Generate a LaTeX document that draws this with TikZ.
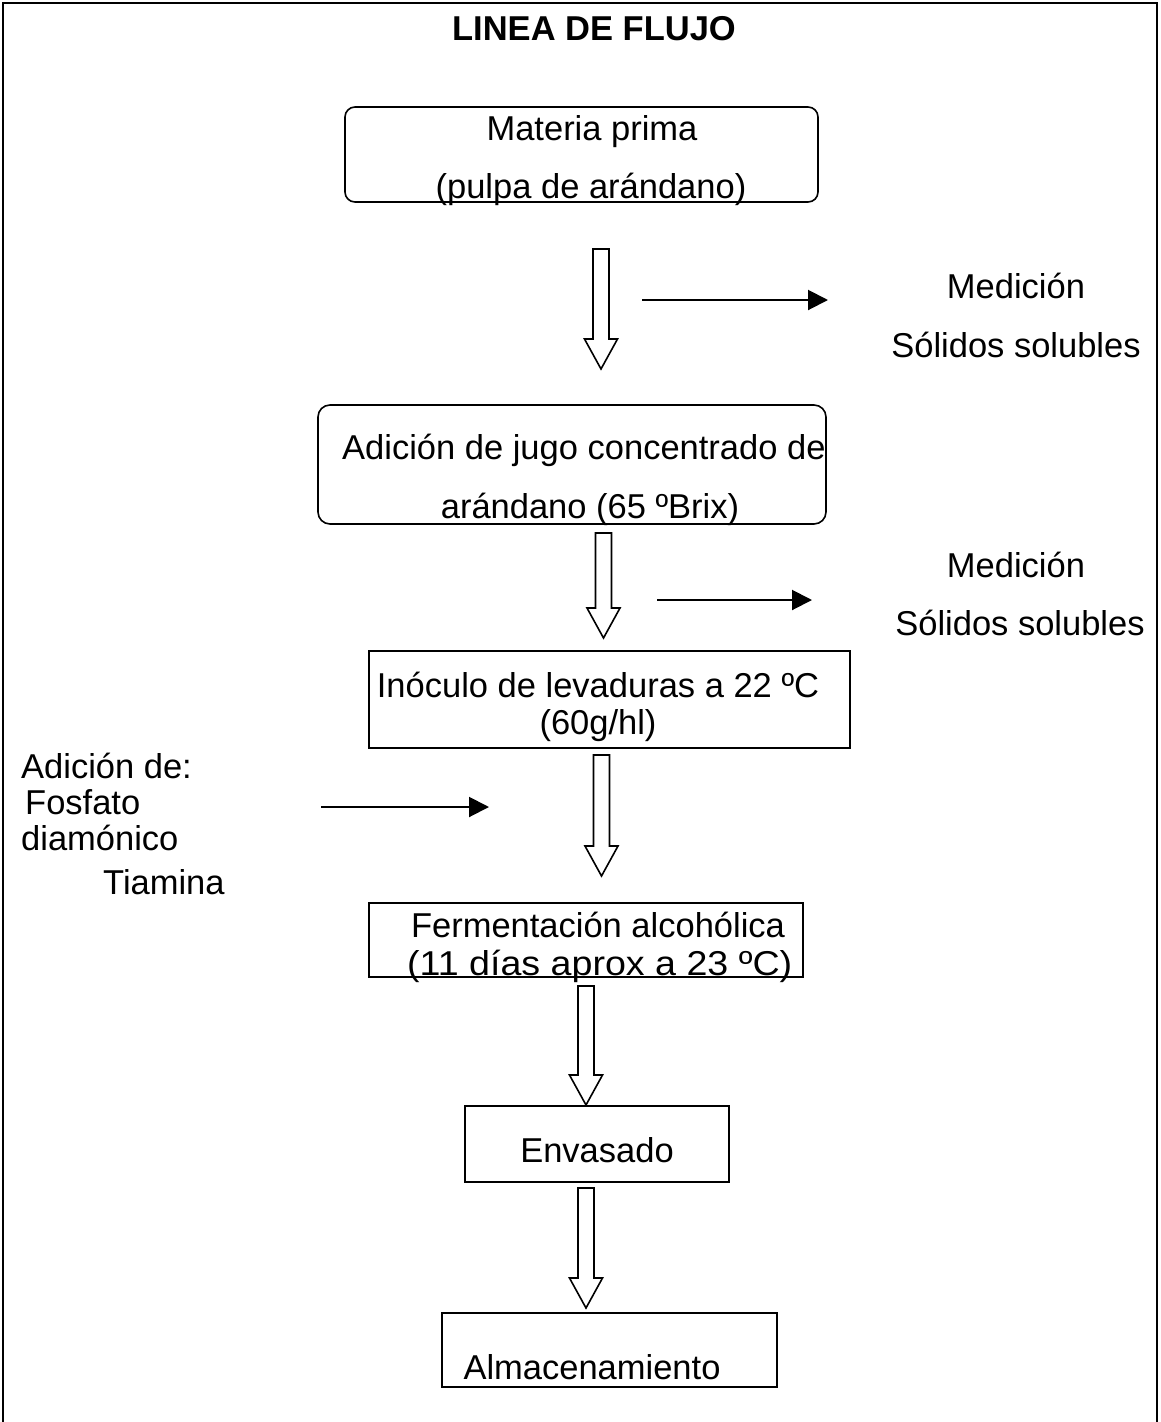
\documentclass[tikz,border=0pt]{standalone}
\usepackage{fontspec}
\setmainfont{Liberation Sans}
\usetikzlibrary{arrows.meta}
\tikzset{
  stepbox/.style={draw=black, line width=1.6pt, inner sep=0pt, fill=none},
  lbl/.style={inner sep=0pt, font=\fontsize{34.5}{40}\selectfont},
  ttl/.style={inner sep=0pt, font=\fontsize{34.5}{40}\selectfont\bfseries},
  frameline/.style={line width=2.5pt, draw=black},
  harrow/.style={line width=1.6pt, draw=black, line join=miter},
  flowarrow/.style={line width=2pt, -{Triangle[length=20pt,width=20pt]}}
}
\newcommand\hollowarrow[3]{%
  \draw[harrow] ({#1-8},{#2}) -- ({#1-8},{#3-30}) -- ({#1-16.5},{#3-30}) -- ({#1},{#3})
    -- ({#1+16.5},{#3-30}) -- ({#1+8},{#3-30}) -- ({#1+8},{#2}) -- cycle;}
\begin{document}
\begin{tikzpicture}[x=1pt,y=-1pt]
\useasboundingbox (0,0) rectangle (1160,1422);
% outer frame (bottom edge cut off)
\draw[frameline] (3,1440) -- (3,3) -- (1157,3) -- (1157,1440);

% title
\node[ttl, anchor=base] (title) at (594,40) {LINEA DE FLUJO};

% boxes
\node[stepbox, rounded corners=10pt, minimum width=473pt, minimum height=95pt] (b1) at (581.5,154.5) {};
\node[stepbox, rounded corners=12pt, minimum width=508pt, minimum height=119pt] (b2) at (572,464.5) {};
\node[stepbox, minimum width=481pt, minimum height=97pt] (b3) at (609.5,699.5) {};
\node[stepbox, minimum width=434pt, minimum height=74pt] (b4) at (586,940) {};
\node[stepbox, minimum width=264pt, minimum height=76pt] (b5) at (597,1144) {};
\node[stepbox, minimum width=335pt, minimum height=74pt] (b6) at (609.5,1350) {};

% box texts
\node[lbl, anchor=base] (t1a) at (592,140) {Materia prima};
\node[lbl, anchor=base] (t1b) at (591,198) {(pulpa de arándano)};
\node[lbl, anchor=base west] (t2a) at (342,459) {Adición de jugo concentrado de};
\node[lbl, anchor=base] (t2b) at (590,518) {arándano (65 ºBrix)};
\node[lbl, anchor=base] (t3a) at (598,697) {Inóculo de levaduras a 22 ºC};
\node[lbl, anchor=base] (t3b) at (598,734) {(60g/hl)};
\node[lbl, anchor=base] (t4a) at (598,937) {Fermentación alcohólica};
\node[lbl, anchor=base west] (t4b) at (407,975) {\scalebox{1.09}[1]{(11 días aprox a 23 ºC)}};
\node[lbl, anchor=base] (t5) at (597,1162) {Envasado};
\node[lbl, anchor=base] (t6) at (592,1379) {Almacenamiento};

% side texts
\node[lbl, anchor=base] (m1a) at (1016,298) {Medición};
\node[lbl, anchor=base] (m1b) at (1016,357) {Sólidos solubles};
\node[lbl, anchor=base] (m2a) at (1016,577) {Medición};
\node[lbl, anchor=base] (m2b) at (1020,635) {Sólidos solubles};
\node[lbl, anchor=base west] (ad1) at (21,778) {Adición de:};
\node[lbl, anchor=base west] (ad2) at (25,814) {Fosfato};
\node[lbl, anchor=base west] (ad3) at (21,850) {diamónico};
\node[lbl, anchor=base west] (ad4) at (103,894) {Tiamina};

% hollow flow arrows
\hollowarrow{601}{249}{369}
\hollowarrow{603.5}{533}{638}
\hollowarrow{601.5}{755}{876}
\hollowarrow{586}{986}{1105}
\hollowarrow{586}{1188}{1308}

% black side arrows
\coordinate (s1) at (642,300);
\coordinate (e1) at (828,300);
\coordinate (s2) at (657,600);
\coordinate (e2) at (812,600);
\coordinate (s3) at (321,807);
\coordinate (e3) at (489,807);
\draw[flowarrow] (s1) -- (e1);
\draw[flowarrow] (s2) -- (e2);
\draw[flowarrow] (s3) -- (e3);
\end{tikzpicture}
\end{document}
